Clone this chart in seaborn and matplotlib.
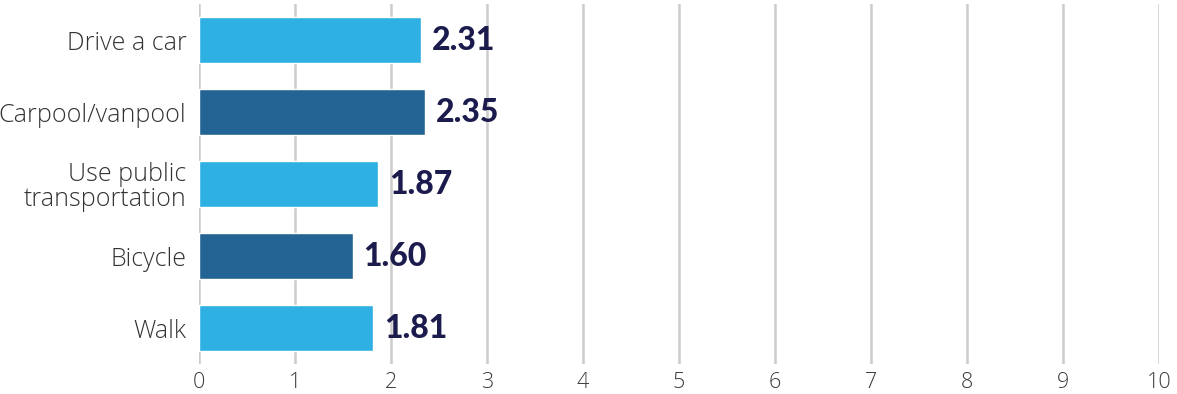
import matplotlib
matplotlib.use("Agg")
import matplotlib.pyplot as plt
import seaborn as sns
import pandas as pd

categories = ["Drive a car", "Carpool/vanpool", "Use public\ntransportation", "Bicycle", "Walk"]
values = [2.31, 2.35, 1.87, 1.60, 1.81]
bar_colors = ["#2EB0E2", "#246494", "#2EB0E2", "#246494", "#2EB0E2"]
x_ticks = [0, 1, 2, 3, 4, 5, 6, 7, 8, 9, 10]

sns.set_theme(style="white")
plt.rcParams["font.family"] = ["Open Sans", "DejaVu Sans"]

df = pd.DataFrame({"mode": categories, "score": values})

fig = plt.figure(figsize=(11.77, 3.94), dpi=100)
ax = fig.add_axes([0.169, 0.0761, 0.8157, 0.9137])

sns.barplot(data=df, x="score", y="mode", hue="mode", palette=bar_colors,
            legend=False, width=0.65, saturation=1, ax=ax, zorder=3)

ax.set_xlim(0, 10)
ax.set_ylim(4.5, -0.5)
ax.set_xticks(x_ticks)
ax.set_xticklabels([str(t) for t in x_ticks], fontsize=15.5, fontweight="light", color="#3C3C3C")
ax.set_yticklabels(categories, fontsize=18, fontweight="light", color="#333333", linespacing=1.0)
ax.tick_params(axis="y", length=0, pad=9)
ax.tick_params(axis="x", length=0, pad=6)
ax.set_xlabel("")
ax.set_ylabel("")
for s in ax.spines.values():
    s.set_visible(False)
ax.grid(axis="x", color="#CCCCCC", linewidth=1.8, zorder=0)
ax.set_axisbelow(True)

for i, v in enumerate(values):
    ax.annotate(f"{v:.2f}", xy=(v, i), xytext=(8, 0), textcoords="offset points",
                va="center", ha="left", fontsize=23, fontweight="black", color="#1C1B4D",
                family=["Lato", "DejaVu Sans"], zorder=4)

fig.savefig("out.png", dpi=100)
